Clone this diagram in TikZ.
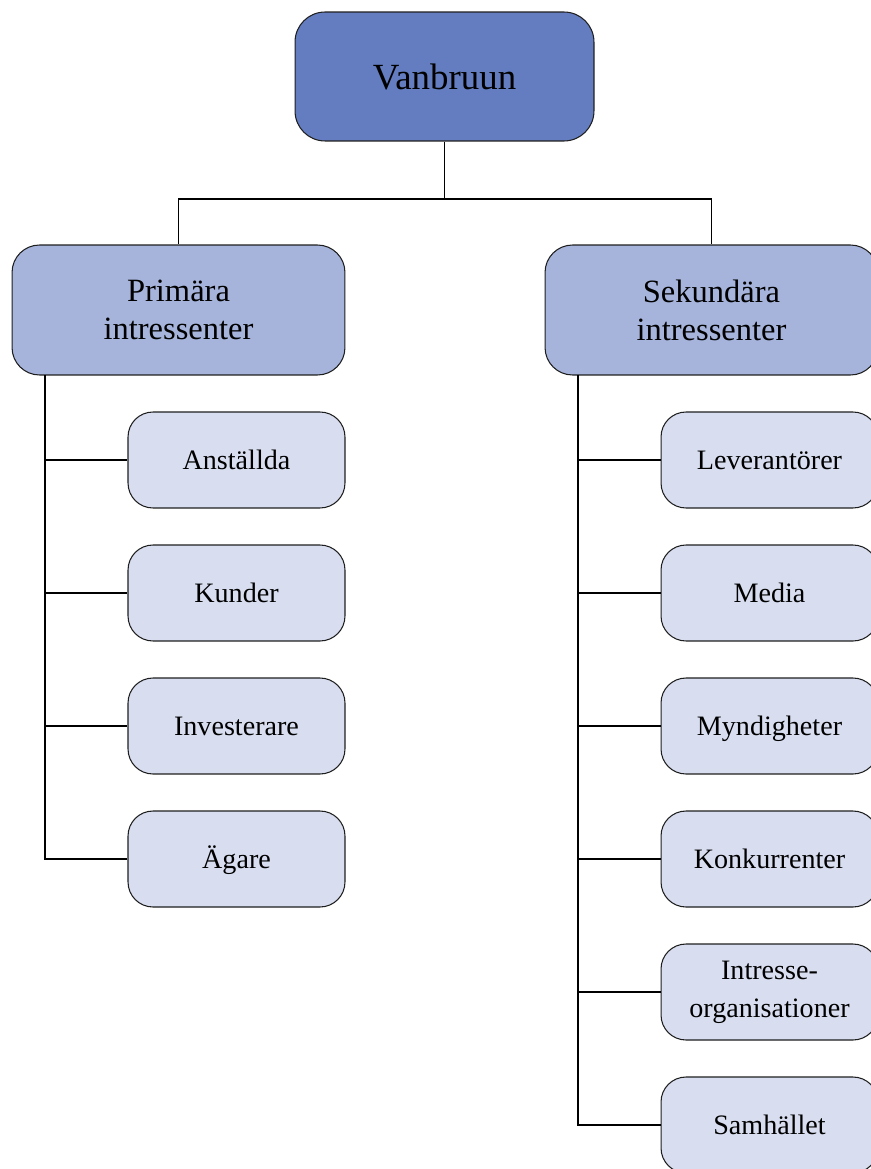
\documentclass[tikz,border=0pt]{standalone}
\usepackage{fontspec}
\setmainfont{Liberation Serif}
\usetikzlibrary{positioning}
\definecolor{topblue}{RGB}{99,125,192}
\definecolor{grpblue}{RGB}{166,180,220}
\definecolor{itemblue}{RGB}{216,222,240}
\definecolor{edgegray}{RGB}{30,30,30}
\tikzset{
  topbox/.style={draw=edgegray, fill=topblue, rounded corners=0.6cm, line width=0.6pt,
                 minimum width=5.98cm, minimum height=2.58cm, font=\fontsize{21}{25}\selectfont},
  grpbox/.style={draw=edgegray, fill=grpblue, rounded corners=0.55cm, line width=0.6pt,
                 minimum width=6.66cm, minimum height=2.6cm, align=center,
                 font=\fontsize{18.5}{21.6}\selectfont},
  itembox/.style={draw=edgegray, fill=itemblue, rounded corners=0.5cm, line width=0.6pt,
                  minimum width=4.34cm, minimum height=1.92cm, align=center,
                  text height=12pt, text depth=1pt,
                  font=\fontsize{16}{21.6}\selectfont},
  twoline/.style={text height=, text depth=},
  conn/.style={black, line width=0.6pt},
}
\begin{document}
\begin{tikzpicture}[x=0.02cm, y=-0.02cm]
  \useasboundingbox (0,0) rectangle (871,1169);
  \clip (0,0) rectangle (871,1169);
  % top and groups
  \node[topbox] (top) at (444.5,76.5) {Vanbruun};
  \node[grpbox] (prim) at (178.5,310) {Primära\\intressenter};
  \node[grpbox] (sek) at (711.5,310) {Sekundära\\intressenter};
  \coordinate (split) at (444.5,199);
  \draw[conn] (top.south) -- (split) -| (prim.north);
  \draw[conn] (split) -| (sek.north);
  % primary items
  \coordinate (trunkL) at (45,375);
  \foreach \name/\txt [count=\i] in {ans/Anställda, kun/Kunder, inv/Investerare, aga/Ägare}{
    \node[itembox] (\name) at (236.5,{460+133*(\i-1)}) {\txt};
    \draw[conn] (trunkL) |- (\name.west);
  }
  % secondary items
  \coordinate (trunkR) at (578,375);
  \foreach \name/\txt/\opt [count=\i] in {lev/Leverantörer/, med/Media/, myn/Myndigheter/,
      kon/Konkurrenter/, int/{Intresse-\\organisationer}/twoline, sam/Samhället/}{
    \node[itembox, \opt] (\name) at (769.5,{460+133*(\i-1)}) {\txt};
    \draw[conn] (trunkR) |- (\name.west);
  }
\end{tikzpicture}
\end{document}
